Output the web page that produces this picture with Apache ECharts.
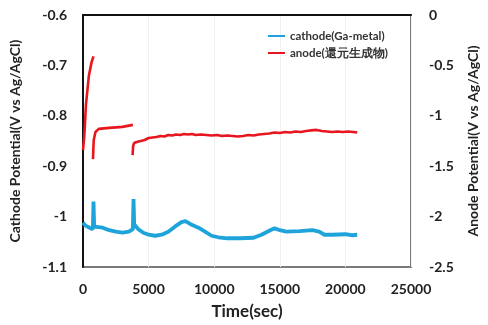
<!DOCTYPE html>
<html>
<head>
<meta charset="utf-8">
<script src="https://cdn.jsdelivr.net/npm/echarts@6/dist/echarts.min.js"></script>
<style>
html,body{margin:0;padding:0;background:#fff;}
#chart{width:488px;height:325px;}
</style>
</head>
<body>
<div id="chart"></div>
<script>
// ---- data ----
var seriesNames = ['cathode(Ga-metal)', 'anode(還元生成物)'];
var xTicks = [0, 5000, 10000, 15000, 20000, 25000];
var leftTicks = [-1.1, -1, -0.9, -0.8, -0.7, -0.6];
var rightTicks = [-2.5, -2, -1.5, -1, -0.5, 0];

var cathodeTime = [0, 200, 500, 750, 800, 850, 1000, 1500, 2000, 2500, 3000, 3500, 3800, 3850, 3900, 4200, 4600, 5000, 5500, 6000, 6500, 7000, 7500, 7800, 8200, 8800, 9300, 9800, 10300, 11000, 12000, 13000, 13600, 14200, 14600, 15000, 15500, 16500, 17500, 18000, 18400, 19000, 20000, 20500, 20900];
var cathodeValue = [-1.012, -1.018, -1.022, -1.025, -0.97, -1.02, -1.018, -1.022, -1.027, -1.03, -1.032, -1.03, -1.025, -0.965, -1.015, -1.025, -1.032, -1.036, -1.038, -1.036, -1.03, -1.02, -1.011, -1.009, -1.015, -1.022, -1.03, -1.038, -1.041, -1.043, -1.043, -1.042, -1.036, -1.028, -1.023, -1.027, -1.03, -1.029, -1.027, -1.03, -1.036, -1.036, -1.035, -1.037, -1.036];

// null marks a break between recorded segments
var anodeTime = [0, 100, 225, 450, 650, 800, 801,
  760, 790, 820, 950, 1200, 2000, 3000, 3800, 3801,
  3780, 3820, 3900, 4100, 4400, 4700, 5000, 5300, 5600, 5900, 6200, 6500, 6800, 7100, 7400, 7700, 8000, 8300, 8600, 9000, 9400, 9800, 10200, 10600, 11000, 11400, 11800, 12200, 12600, 13000, 13400, 13800, 14200, 14600, 15000, 15400, 15800, 16200, 16600, 17000, 17400, 17800, 18200, 18600, 19000, 19400, 19800, 20200, 20600, 20900];
var anodeValue = [-1.34, -1.2, -0.89, -0.6, -0.47, -0.41, null,
  -1.43, -1.33, -1.24, -1.16, -1.13, -1.12, -1.11, -1.09, null,
  -1.39, -1.3, -1.27, -1.26, -1.25, -1.24, -1.22, -1.215, -1.21, -1.2, -1.205, -1.19, -1.195, -1.185, -1.19, -1.18, -1.185, -1.18, -1.19, -1.185, -1.19, -1.195, -1.19, -1.2, -1.195, -1.2, -1.205, -1.2, -1.19, -1.195, -1.185, -1.18, -1.175, -1.165, -1.17, -1.16, -1.165, -1.155, -1.16, -1.15, -1.145, -1.14, -1.15, -1.155, -1.16, -1.155, -1.16, -1.155, -1.16, -1.165];

// ---- build ----
function pairs(t, v) {
  return t.map(function (x, i) { return [x, v[i] === null ? '-' : v[i]]; });
}
var FONT = 'Lato';
var chart = echarts.init(document.getElementById('chart'), null, {renderer: 'canvas'});
var tickLabel = {fontFamily: FONT, fontWeight: 'bold', fontSize: 14, color: '#222'};
var nameStyle = {fontFamily: FONT, fontWeight: 'bold', fontSize: 14, color: '#222'};
function fmt(v) { return String(Math.round(v * 10) / 10); }

chart.setOption({
  animation: false,
  backgroundColor: '#fff',
  grid: {left: 82, right: 73, top: 15, bottom: 53, show: true, borderColor: '#7a7a7a', borderWidth: 2, backgroundColor: 'transparent'},
  legend: {
    orient: 'vertical', left: 263, top: 25, itemWidth: 17, itemHeight: 2, itemGap: 5,
    icon: 'rect',
    data: seriesNames,
    textStyle: {fontFamily: FONT, fontWeight: 'bold', fontSize: 11.5, color: '#333'}
  },
  xAxis: {
    type: 'value', min: xTicks[0], max: xTicks[xTicks.length - 1], interval: xTicks[1] - xTicks[0],
    name: 'Time(sec)', nameLocation: 'middle', nameGap: 36,
    nameTextStyle: {fontFamily: FONT, fontWeight: 'bold', fontSize: 17, color: '#222'},
    axisLine: {show: true, lineStyle: {color: '#111', width: 2}},
    axisTick: {show: false},
    axisLabel: Object.assign({margin: 15, formatter: function (v) { return String(v); }}, tickLabel),
    splitLine: {show: true, lineStyle: {color: '#f1f1f1', width: 1}}
  },
  yAxis: [{
    type: 'value', position: 'left', min: leftTicks[0], max: leftTicks[leftTicks.length - 1], interval: 0.1,
    name: 'Cathode Potential(V vs Ag/AgCl)', nameLocation: 'middle', nameGap: 61, nameTextStyle: nameStyle,
    axisLine: {show: true, lineStyle: {color: '#111', width: 2}},
    axisTick: {show: false},
    axisLabel: Object.assign({margin: 16, formatter: fmt}, tickLabel),
    splitLine: {show: false}
  }, {
    type: 'value', position: 'right', min: rightTicks[0], max: rightTicks[rightTicks.length - 1], interval: 0.5,
    name: 'Anode Potential(V vs Ag/AgCl)', nameLocation: 'middle', nameGap: 55, nameRotate: 90, nameTextStyle: nameStyle,
    axisLine: {show: false},
    axisTick: {show: false},
    axisLabel: Object.assign({margin: 18, formatter: fmt}, tickLabel),
    splitLine: {show: false}
  }],
  series: [{
    name: seriesNames[0], type: 'line', yAxisIndex: 0, showSymbol: false, symbol: 'none',
    data: pairs(cathodeTime, cathodeValue),
    lineStyle: {color: '#1fa3db', width: 3.8},
    itemStyle: {color: '#1fa3db'}
  }, {
    name: seriesNames[1], type: 'line', yAxisIndex: 1, showSymbol: false, symbol: 'none', connectNulls: false,
    data: pairs(anodeTime, anodeValue),
    lineStyle: {color: '#e8161e', width: 2.6},
    itemStyle: {color: '#e8161e'}
  }]
});
</script>
</body>
</html>
